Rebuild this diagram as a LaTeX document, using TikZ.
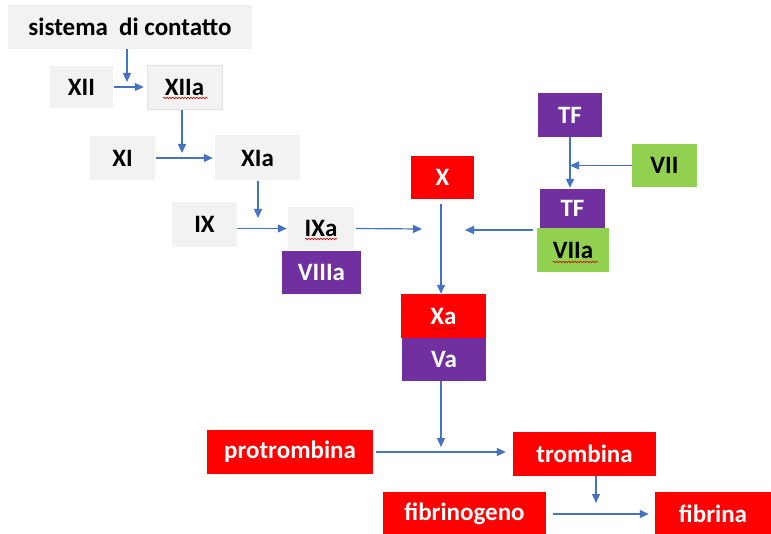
\documentclass[tikz,border=0pt]{standalone}
\usepackage{fontspec}
\setmainfont{Carlito}
\usetikzlibrary{arrows.meta,decorations.pathmorphing}
\definecolor{lgray}{HTML}{F2F2F2}
\definecolor{ored}{HTML}{FF0000}
\definecolor{opurple}{HTML}{7030A0}
\definecolor{ogreen}{HTML}{92D050}
\definecolor{oblue}{HTML}{4472C4}
\tikzset{
  box/.style={inner sep=0pt, font=\bfseries\fontsize{25}{28}\selectfont},
  graybox/.style={box, fill=lgray, text=black},
  redbox/.style={box, fill=ored, text=white},
  purplebox/.style={box, fill=opurple, text=white},
  greenbox/.style={box, fill=ogreen, text=black},
  arr/.style={draw=oblue, line width=1.2pt, -{Triangle[length=9pt,width=8pt]}},
  squig/.style={draw=red!80!black, line width=0.6pt, decorate,
    decoration={snake, amplitude=0.8pt, segment length=3pt}}
}
\begin{document}
\begin{tikzpicture}[x=1pt,y=-1pt]
\clip (0,0) rectangle (771,534);
\fill[white] (0,0) rectangle (771,534);
% nodes
\node[graybox, minimum width=244, minimum height=44] (sistema) at (130,27) {sistema\ \ di contatto};
\node[graybox, minimum width=63, minimum height=42] (xii) at (81.5,87) {XII};
\node[graybox, minimum width=75, minimum height=44, draw=black!12] (xiia) at (184.5,87) {XIIa};
\node[graybox, minimum width=65, minimum height=44] (xi) at (122.5,158) {XI};
\node[graybox, minimum width=85, minimum height=45] (xia) at (257.5,158) {XIa};
\node[graybox, minimum width=65, minimum height=45] (ix) at (204.5,224.5) {IX};
\node[graybox, minimum width=66, minimum height=43] (ixa) at (321,228.5) {IXa};
\node[purplebox, minimum width=79, minimum height=43] (viiia) at (321.5,272.5) {VIIIa};
\node[redbox, minimum width=63, minimum height=43] (x) at (442.5,177.5) {X};
\node[purplebox, minimum width=64, minimum height=44] (tf1) at (570,115) {TF};
\node[greenbox, minimum width=65, minimum height=43] (vii) at (664.5,165.5) {VII};
\node[purplebox, minimum width=65, minimum height=39] (tf2) at (572.5,208.5) {TF};
\node[greenbox, minimum width=72, minimum height=44] (viia) at (573,250) {VIIa};
\node[redbox, minimum width=85, minimum height=44] (xa) at (443.5,316) {Xa};
\node[purplebox, minimum width=84, minimum height=43] (va) at (444,359.5) {Va};
\node[redbox, minimum width=166, minimum height=44] (protro) at (290,452) {protrombina};
\node[redbox, minimum width=143, minimum height=44] (trombina) at (584.5,454) {trombina};
\node[redbox, minimum width=163, minimum height=44] (fibrinogeno) at (464.5,514) {fibrinogeno};
\node[redbox, minimum width=116, minimum height=44] (fibrina) at (713,514) {fibrina};
% free ends
\coordinate (j1) at (127,82);
\coordinate (j2) at (182,153);
\coordinate (j3) at (258,218);
\coordinate (j4) at (422,229);
\coordinate (j5) at (465,230);
\coordinate (j6) at (441,447);
\coordinate (j7) at (596,503);
% connectors
\draw[arr] (sistema.south -| j1) -- (j1);
\draw[arr, shorten <=1pt, shorten >=3pt] (xii.east) -- (xiia.west);
\draw[arr, shorten <=1pt] (xiia.south -| j2) -- (j2);
\draw[arr, shorten <=1pt, shorten >=2pt] (xi.east) -- (xia.west);
\draw[arr] (xia.south -| j3) -- (j3);
\draw[arr, shorten >=1pt] (ix.east |- ixa) -- (ixa.west);
\draw[arr, shorten <=2pt] (ixa.east) -- (j4);
\draw[arr, shorten <=5pt] (x.south -| j6) -- (xa.north -| j6);
\draw[arr, shorten <=4pt] (j5 -| viia.west) -- (j5);
\draw[arr, shorten >=1pt] (tf1.south) -- (tf2.north -| tf1.south);
\draw[arr] (vii.west) -- (vii.west -| tf1.south);
\draw[arr] (va.south -| j6) -- (j6);
\draw[arr, shorten <=3pt, shorten >=7pt] (protro.east) -- (protro.east -| trombina.west);
\draw[arr] (trombina.south -| j7) -- (j7);
\draw[arr, shorten <=7pt, shorten >=6pt] (fibrinogeno.east) -- (fibrina.west);
% spell-check squiggles
\draw[squig] (163,98) -- (208,98);
\draw[squig] (305,239) -- (337,239);
\draw[squig] (553,262) -- (598,262);
\draw[squig] (431,328) -- (458,328);
\end{tikzpicture}
\end{document}
